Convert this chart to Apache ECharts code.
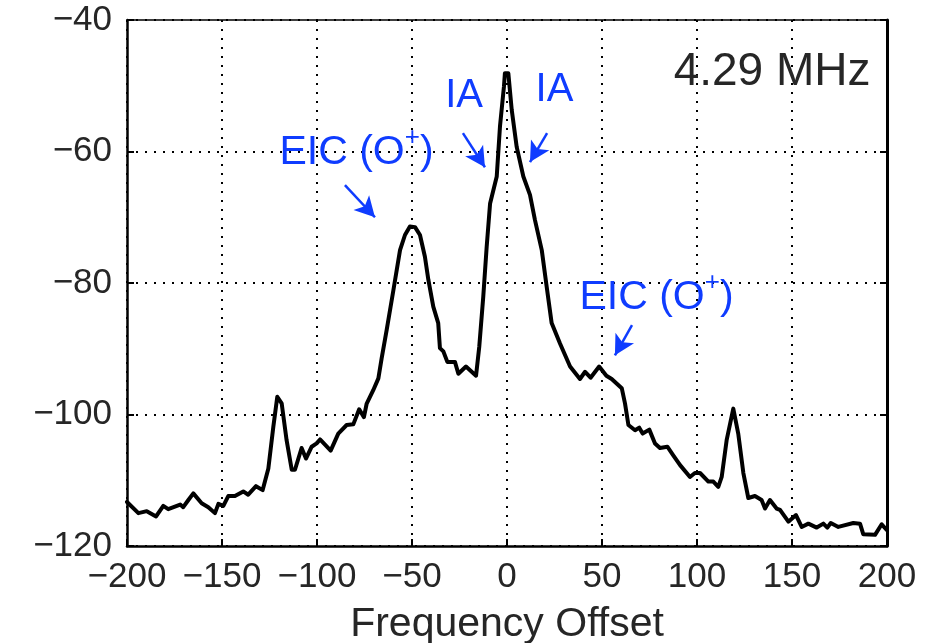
<!DOCTYPE html>
<html>
<head>
<meta charset="utf-8">
<script src="https://cdn.jsdelivr.net/npm/echarts@6/dist/echarts.min.js"></script>
<style>
html,body{margin:0;padding:0;background:#fff;}
#chart{width:925px;height:643px;}
</style>
</head>
<body>
<div id="chart"></div>
<script>
// ---- data ----
var freqOffset = [-200,-194,-189.6,-184.7,-180.9,-178.3,-172,-170.4,-167.7,-165.1,-160.7,-157.2,-153.7,-151.9,-149.3,-146.7,-143.2,-138.8,-136.2,-132.1,-128.6,-125.6,-123,-120.9,-118.6,-116,-113.3,-111.6,-108.1,-105.8,-102.8,-100.2,-98.4,-92.8,-88.8,-84.4,-80.9,-77.8,-75.3,-73.9,-70.4,-67.7,-66,-63.3,-59.8,-56.3,-53.7,-51.1,-48.4,-45.8,-43.2,-41.4,-38.8,-36.2,-35.3,-33.5,-31.4,-27.4,-25.6,-21.6,-16.3,-14.6,-12.5,-10.7,-8.9,-5.4,-3.7,-1.6,-1.1,0.7,2.5,5.1,8.6,12.1,14.7,18.3,20.9,23.5,27.9,33.2,38.4,41.1,44,48.5,52.3,55.1,60.4,62.1,63.9,67.4,69.6,71.4,74.9,77.9,80.5,84.4,87.5,91.1,96.3,98.9,101.6,106,108.6,111.2,113,115.6,119.1,121.7,124.4,127,130.5,134,135.8,138.4,141.9,143.7,148.1,152.1,155.1,158.6,163,166.5,168.6,170.4,174.4,182.3,185.8,187.5,193.7,197.2,200];
var powerDb = [-113.3,-115.0,-114.7,-115.5,-113.9,-114.4,-113.7,-114.1,-113.0,-112.0,-113.5,-114.1,-115.0,-113.6,-113.9,-112.4,-112.4,-111.7,-112.2,-110.9,-111.5,-108.2,-101.9,-97.3,-98.3,-103.9,-108.4,-108.4,-105.1,-106.7,-104.9,-104.4,-103.8,-105.5,-102.9,-101.6,-101.5,-99.2,-100.4,-98.4,-96.3,-94.5,-91.5,-87.1,-81.1,-75.0,-72.7,-71.4,-71.5,-72.7,-76.0,-79.5,-83.6,-86.1,-89.9,-90.4,-92.0,-92.0,-93.8,-92.7,-94.1,-89.7,-82.1,-74.5,-67.9,-63.8,-56.2,-50.1,-48.1,-48.1,-53.7,-59.3,-63.8,-66.6,-70.4,-75.0,-80.6,-86.1,-89.2,-92.7,-94.6,-93.5,-94.4,-92.7,-94.1,-94.6,-96.0,-98.3,-101.6,-102.4,-102.0,-102.9,-102.3,-104.4,-105.1,-104.9,-106.2,-107.7,-109.5,-108.9,-108.9,-110.2,-110.2,-111.0,-109.5,-103.9,-99.1,-102.9,-108.9,-112.7,-112.4,-113.0,-114.3,-113.0,-114.3,-114.5,-116.3,-115.3,-117.1,-116.6,-117.2,-116.6,-117.2,-116.5,-117.1,-116.5,-116.6,-118.2,-118.3,-116.7,-117.6];

var xTicks = [-200,-150,-100,-50,0,50,100,150,200];
var yTicks = [-120,-100,-80,-60,-40];
var xAxisTitle = 'Frequency Offset';

// annotations (data coordinates)
var noteTexts = ['{t|EIC (O}{s|+}{t|)}', '{i|IA}', '{i|IA}', '{t|EIC (O}{s|+}{t|)}'];
var noteX = [-79.2, -22.6, 25.0, 78.7];
var noteY = [-59.6, -51.6, -50.6, -81.7];
var arrowFromX = [-85.3, -23.2, 21.1, 65.8];
var arrowFromY = [-65.1, -57.2, -57.2, -86.4];
var arrowToX = [-69.5, -11.6, 12.1, 56.8];
var arrowToY = [-70.0, -62.4, -61.6, -91.0];
var freqLabel = '4.29 MHz';
var freqLabelX = 139.5;
var freqLabelY = -47.9;

// ---- chart ----
var FONT = 'Liberation Sans, Arial, Helvetica, sans-serif';
var BLUE = '#0f3cff';
var TXT = '#262626';

var lineData = freqOffset.map(function (x, i) { return [x, powerDb[i]]; });
function fmt(v) { return v < 0 ? '\u2212' + Math.abs(v) : String(v); }

var markPts = noteTexts.map(function (t, i) {
  return {
    coord: [noteX[i], noteY[i]],
    symbol: 'circle', symbolSize: 0,
    label: {
      show: true, position: 'inside', formatter: t,
      rich: {
        t: { fontFamily: FONT, fontSize: 41, color: BLUE, lineHeight: 48, verticalAlign: 'bottom' },
        i: { fontFamily: FONT, fontSize: 40, color: BLUE, lineHeight: 46 },
        s: { fontFamily: FONT, fontSize: 26, color: BLUE, lineHeight: 48, verticalAlign: 'top' }
      }
    }
  };
});
markPts.push({
  coord: [freqLabelX, freqLabelY], symbol: 'circle', symbolSize: 0,
  label: { show: true, position: 'inside', formatter: freqLabel, fontFamily: FONT, fontSize: 46, color: TXT }
});

var markLines = arrowFromX.map(function (x, i) {
  return [{ coord: [x, arrowFromY[i]] }, { coord: [arrowToX[i], arrowToY[i]] }];
});

var chart = echarts.init(document.getElementById('chart'), null, { renderer: 'canvas' });
chart.setOption({
  animation: false,
  backgroundColor: '#fff',
  grid: { left: 127, right: 38, top: 20, bottom: 97, containLabel: false, outerBoundsMode: 'none' },
  xAxis: [{
    type: 'value', min: xTicks[0], max: xTicks[xTicks.length - 1], interval: 50,
    position: 'bottom',
    name: xAxisTitle, nameLocation: 'middle', nameGap: 58,
    nameTextStyle: { fontFamily: FONT, fontSize: 41, color: TXT },
    axisLine: { show: true, onZero: false, lineStyle: { color: '#000', width: 2.5 } },
    axisTick: { show: true, inside: true, length: 7, lineStyle: { color: '#000', width: 2 } },
    axisLabel: { fontFamily: FONT, fontSize: 35, color: TXT, margin: 14, formatter: fmt },
    splitLine: { show: true, lineStyle: { color: '#000', width: 2, type: [2, 7] } }
  }, {
    type: 'value', min: xTicks[0], max: xTicks[xTicks.length - 1], interval: 50,
    position: 'top',
    axisLine: { show: true, onZero: false, lineStyle: { color: '#000', width: 1.5 } },
    axisTick: { show: false }, axisLabel: { show: false }, splitLine: { show: false }
  }],
  yAxis: [{
    type: 'value', min: yTicks[0], max: yTicks[yTicks.length - 1], interval: 20,
    position: 'left',
    axisLine: { show: true, onZero: false, lineStyle: { color: '#000', width: 2.5 } },
    axisTick: { show: true, inside: true, length: 7, lineStyle: { color: '#000', width: 2 } },
    axisLabel: { fontFamily: FONT, fontSize: 35, color: TXT, margin: 15, formatter: fmt },
    splitLine: { show: true, lineStyle: { color: '#000', width: 2, type: [2, 7] } }
  }, {
    type: 'value', min: yTicks[0], max: yTicks[yTicks.length - 1], interval: 20,
    position: 'right',
    axisLine: { show: true, onZero: false, lineStyle: { color: '#000', width: 3 } },
    axisTick: { show: true, inside: true, length: 7, lineStyle: { color: '#000', width: 2 } },
    axisLabel: { show: false }, splitLine: { show: false }
  }],
  series: [{
    type: 'line', data: lineData, xAxisIndex: 0, yAxisIndex: 0,
    showSymbol: false, symbol: 'none', smooth: false,
    lineStyle: { color: '#000', width: 4, join: 'round', cap: 'round' },
    z: 5,
    markPoint: { silent: true, animation: false, data: markPts },
    markLine: {
      silent: true, animation: false,
      symbol: ['none', 'arrow'], symbolSize: [16, 20],
      label: { show: false },
      lineStyle: { color: BLUE, width: 2.5, type: 'solid' },
      data: markLines
    }
  }]
});
</script>
</body>
</html>
